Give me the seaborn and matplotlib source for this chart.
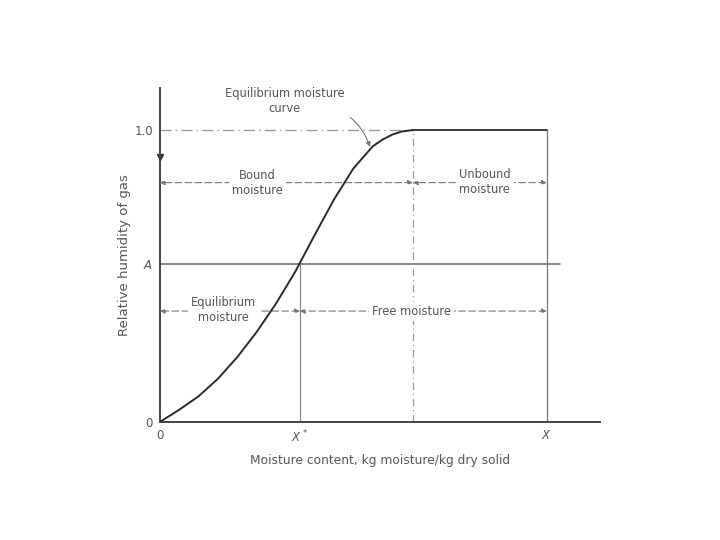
import matplotlib
matplotlib.use("Agg")
import matplotlib.pyplot as plt
import seaborn as sns
import pandas as pd

# ---- data (x in units of X, y = relative humidity) ----
curve_x = [0.0, 0.05, 0.10, 0.15, 0.20, 0.25, 0.30, 0.35, 0.40, 0.45, 0.50, 0.55, 0.575, 0.60, 0.625, 0.654]
curve_y = [0.0, 0.042, 0.088, 0.148, 0.222, 0.308, 0.405, 0.515, 0.640, 0.762, 0.868, 0.944, 0.967, 0.984, 0.995, 1.0]
A_level = 0.541
X_star = 0.362
X_sat = 0.654
X_total = 1.0
y_bound_arrow = 0.82
y_free_arrow = 0.38
x_tick_labels = ["0", "$X^*$", "$X$"]
y_tick_labels = ["0", "$A$", "1.0"]

sns.set_style("white")
plt.rcParams['font.family'] = ['DejaVu Sans']

fig = plt.figure(figsize=(7.2, 5.4), dpi=100)
ax = fig.add_axes([0.222, 0.2185, 0.611, 0.6185])

line_c = "#2a2a2a"
text_c = "#555555"
faint = "#9a9a9a"

df = pd.DataFrame({"x": curve_x, "y": curve_y})
sns.lineplot(data=df, x="x", y="y", ax=ax, color=line_c, lw=1.4, sort=False, zorder=6)
# saturated plateau
sns.lineplot(x=[X_sat, X_total], y=[1.0, 1.0], ax=ax, color=line_c, lw=1.3, zorder=6)

ax.set_xlim(0, 1.137)
ax.set_ylim(0, 1.144)

# reference lines
ax.plot([0, X_sat], [1.0, 1.0], color=faint, lw=1.0, ls=(0, (8, 3, 1, 3)))
ax.plot([0, 1.035], [A_level, A_level], color="#666666", lw=1.1)
ax.plot([X_star, X_star], [0, A_level], color="#888888", lw=0.9)
ax.plot([X_sat, X_sat], [0, 1.0], color=faint, lw=0.9, ls=(0, (6, 3, 1, 3)))
ax.plot([X_total, X_total], [0, 1.0], color="#777777", lw=0.9)

for s in ["top", "right"]:
    ax.spines[s].set_visible(False)
for s in ["left", "bottom"]:
    ax.spines[s].set_color("#444444")
    ax.spines[s].set_linewidth(1.4)

ax.set_xticks([0, X_star, X_total])
ax.set_xticklabels(x_tick_labels)
ax.set_yticks([0, A_level, 1.0])
ax.set_yticklabels(y_tick_labels)
ax.tick_params(axis="both", length=0, labelsize=8.5, colors=text_c, pad=5)
ax.set_xlabel("Moisture content, kg moisture/kg dry solid", fontsize=8.8, color=text_c, labelpad=6)
ax.set_ylabel("Relative humidity of gas", fontsize=9.5, color=text_c, labelpad=2)

arrow_kw = dict(arrowstyle="<|-|>", color="#777777", lw=0.8, ls=(0, (6, 3)), mutation_scale=7, shrinkA=0, shrinkB=0)

# Bound / Unbound moisture arrows
ax.annotate("", xy=(0, y_bound_arrow), xytext=(X_sat, y_bound_arrow), arrowprops=arrow_kw)
ax.annotate("", xy=(X_sat, y_bound_arrow), xytext=(X_total, y_bound_arrow), arrowprops=arrow_kw)
# Equilibrium / Free moisture arrows
ax.annotate("", xy=(0, y_free_arrow), xytext=(X_star, y_free_arrow), arrowprops=arrow_kw)
ax.annotate("", xy=(X_star, y_free_arrow), xytext=(X_total, y_free_arrow), arrowprops=arrow_kw)

box = dict(boxstyle="square,pad=0.25", fc="white", ec="none")
tk = dict(fontsize=8.3, color=text_c, ha="center", va="center", linespacing=1.25, bbox=box, zorder=4)
ax.text(0.253, 0.818, "Bound\nmoisture", **tk)
ax.text(0.840, 0.822, "Unbound\nmoisture", **tk)
ax.text(0.165, 0.384, "Equilibrium\nmoisture", **tk)
ax.text(0.651, 0.379, "Free moisture", **tk)

# small marker on the y axis
ax.plot([0], [0.908], marker="v", color="#333333", ms=4, clip_on=False)

ax.annotate("Equilibrium moisture\ncurve", xy=(0.543, 0.942), xytext=(0.323, 1.10),
            fontsize=8.3, color=text_c, ha="center", va="center", linespacing=1.25,
            annotation_clip=False,
            arrowprops=dict(arrowstyle="-|>", color="#777777", lw=0.8, mutation_scale=7,
                            connectionstyle="arc3,rad=-0.25", shrinkA=2, shrinkB=0,
                            relpos=(0.88, 0.3)))

fig.savefig("out.png", dpi=100)
